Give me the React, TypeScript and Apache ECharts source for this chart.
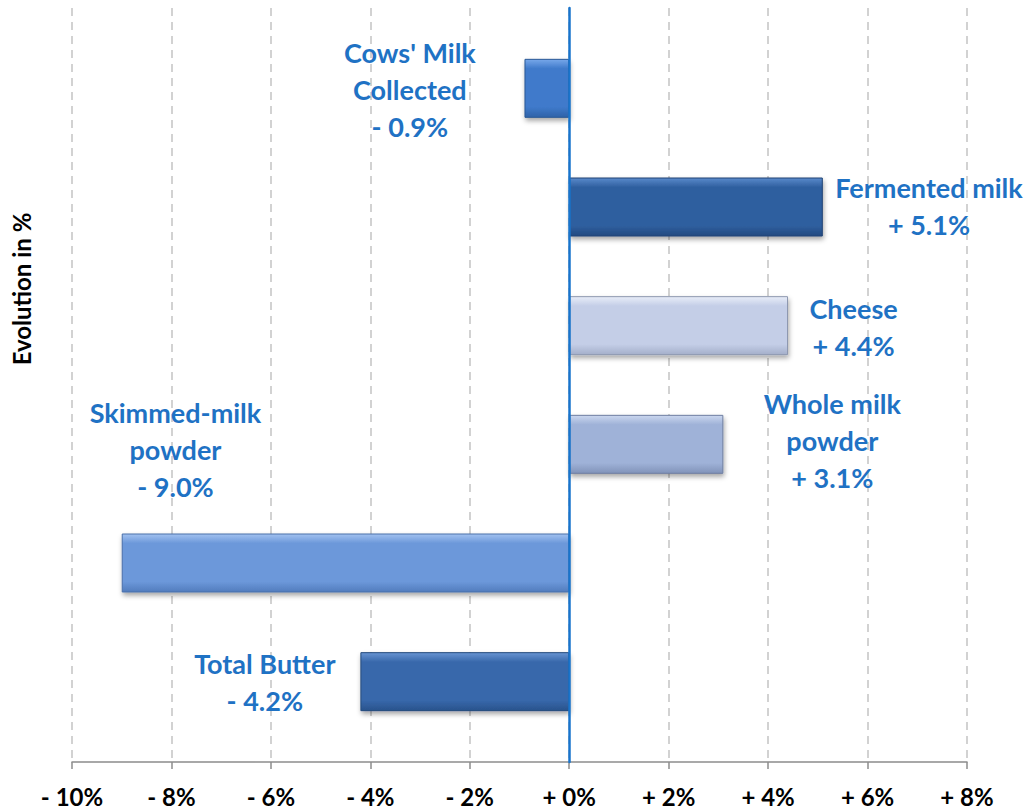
import React, { useEffect, useRef } from "react";
import * as echarts from "echarts";

const categories = [
  "Cows' Milk\nCollected",
  "Fermented milk",
  "Cheese",
  "Whole milk\npowder",
  "Skimmed-milk\npowder",
  "Total Butter",
];
const values = [-0.9, 5.1, 4.4, 3.1, -9.0, -4.2];

// bar colour sets: [top light, main, bottom dark, border]
const barColors = [
  ["#78a8ea", "#3f7acb", "#2f62a8", "#2a5894"],
  ["#5a8acb", "#2f5f9f", "#234a80", "#1f4374"],
  ["#e8edf8", "#c4cee7", "#a4afca", "#8e98b0"],
  ["#cbd7ef", "#9fb2d8", "#8193b9", "#6e7ea0"],
  ["#a2c2f0", "#6c98da", "#527cbd", "#4a70aa"],
  ["#6894d2", "#3868ab", "#29538c", "#244a7c"],
];
// label offsets from bar centre (style only)
const labelOffsets = [
  [-137, 1],
  [233, -1],
  [175, 1],
  [186, -4],
  [-170, -114],
  [-200, 0],
];

const fmtLabel = (v: number) => (v < 0 ? "- " : "+ ") + Math.abs(v).toFixed(1) + "%";
const fmtTick = (v: number) => (v < 0 ? "- " : "+ ") + Math.abs(v) + "%";

export default function App() {
  const ref = useRef<HTMLDivElement>(null);
  useEffect(() => {
    document.body.style.margin = "0";
    if (!ref.current) return;
    const chart = echarts.init(ref.current, undefined, { renderer: "svg" });
    const font = "Lato, 'Open Sans', sans-serif";
    const data = values.map((v, i) => {
      const c = barColors[i];
      return {
        value: v,
        itemStyle: {
          color: new echarts.graphic.LinearGradient(0, 0, 0, 1, [
            { offset: 0, color: c[0] },
            { offset: 0.16, color: c[1] },
            { offset: 0.82, color: c[1] },
            { offset: 1, color: c[2] },
          ]),
          borderColor: c[3],
          borderWidth: 1,
          shadowColor: "rgba(0,0,0,0.35)",
          shadowBlur: 5,
          shadowOffsetX: 1,
          shadowOffsetY: 3,
        },
        label: {
          show: true,
          position: "inside",
          align: "center",
          verticalAlign: "middle",
          offset: labelOffsets[i],
          formatter: () => categories[i] + "\n" + fmtLabel(v),
          color: "#1f72c4",
          fontFamily: font,
          fontWeight: "bold",
          fontSize: 27,
          lineHeight: 37,
        },
      };
    });
    chart.setOption({
      animation: false,
      grid: [
        { left: 72, right: 61, top: 29, bottom: 68 },
        { left: 72, right: 61, top: 8, bottom: 47 },
      ],
      xAxis: [
        {
          gridIndex: 0,
          type: "value",
          min: -10,
          max: 8,
          interval: 2,
          show: false,
        },
        {
          gridIndex: 1,
          type: "value",
          min: -10,
          max: 8,
          interval: 2,
          axisLine: { show: true, onZero: false, lineStyle: { color: "#8c8c8c", width: 1.5 } },
          axisTick: { show: true, length: 7, lineStyle: { color: "#8c8c8c", width: 1.5 } },
          splitLine: {
            show: true,
            lineStyle: { color: "#c4c4c4", type: [8, 6], width: 1.5 },
          },
          axisLabel: {
            margin: 22,
            color: "#000",
            fontFamily: font,
            fontWeight: "bold",
            fontSize: 24,
            lineHeight: 24,
            formatter: (v: number) => fmtTick(v),
          },
        },
      ],
      yAxis: [
        {
          gridIndex: 0,
          type: "category",
          inverse: true,
          data: categories,
          show: false,
        },
        {
          gridIndex: 1,
          type: "value",
          min: 0,
          max: 1,
          z: 5,
          axisLine: { show: true, onZero: true, lineStyle: { color: "#1874cd", width: 2.5 } },
          axisTick: { show: false },
          axisLabel: { show: false },
          splitLine: { show: false },
        },
      ],
      graphic: [
        {
          type: "text",
          x: 21,
          y: 289,
          rotation: Math.PI / 2,
          style: {
            text: "Evolution in %",
            fill: "#000",
            font: "bold 24px " + font,
            textAlign: "center",
            textVerticalAlign: "middle",
          },
        },
      ],
      series: [
        {
          type: "bar",
          xAxisIndex: 0,
          yAxisIndex: 0,
          barWidth: 59,
          data,
        },
      ],
    });
    return () => chart.dispose();
  }, []);
  return <div ref={ref} style={{ width: 1028, height: 809 }} />;
}
